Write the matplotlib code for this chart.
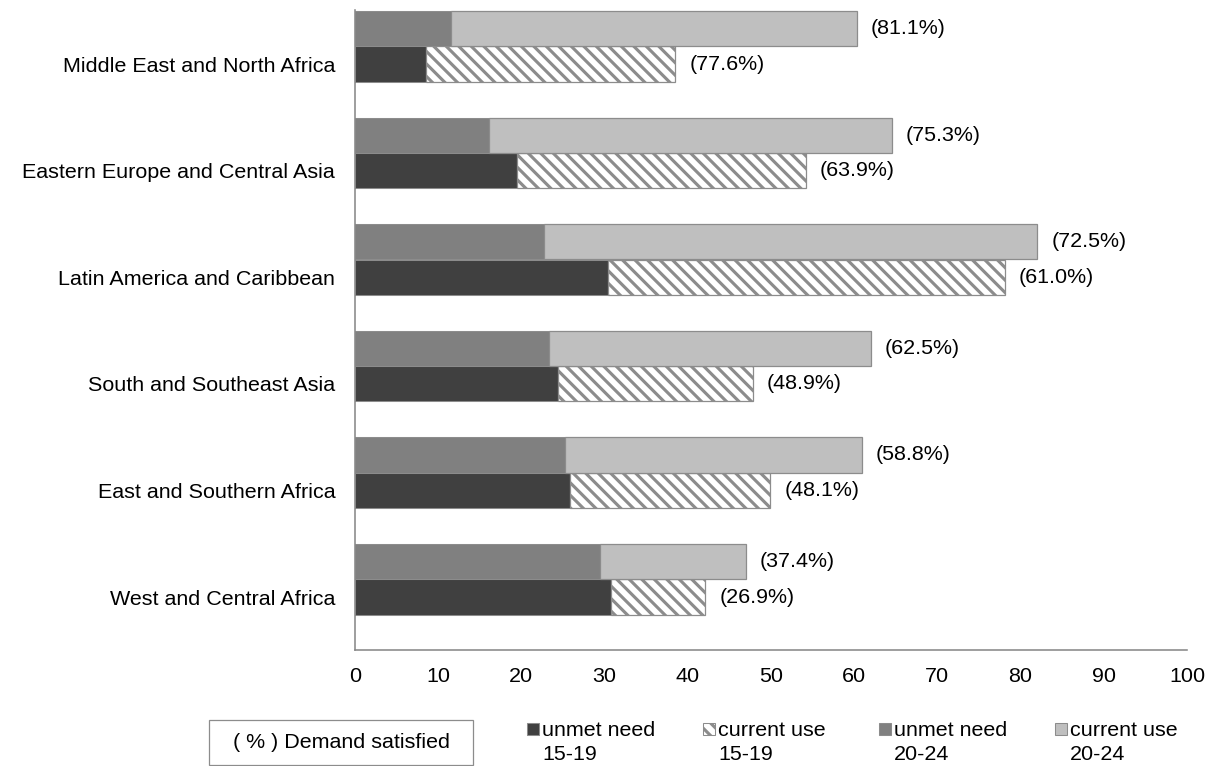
import matplotlib
matplotlib.use('Agg')
import matplotlib.pyplot as plt
from matplotlib.patches import Rectangle

plt.rcParams['font.family'] = ['Liberation Sans', 'DejaVu Sans']
plt.rcParams['hatch.linewidth'] = 3.0

# Datos (de abajo hacia arriba)
regions = ['West and Central Africa', 'East and Southern Africa', 'South and Southeast Asia',
           'Latin America and Caribbean', 'Eastern Europe and Central Asia',
           'Middle East and North Africa']
unmet_15_19 = [30.8, 25.8, 24.4, 30.4, 19.5, 8.5]
use_15_19 = [11.3, 24.1, 23.4, 47.7, 34.7, 30.0]
unmet_20_24 = [29.4, 25.2, 23.3, 22.7, 16.1, 11.5]
use_20_24 = [17.6, 35.7, 38.7, 59.3, 48.4, 48.8]
sat_15_19 = [26.9, 48.1, 48.9, 61.0, 63.9, 77.6]
sat_20_24 = [37.4, 58.8, 62.5, 72.5, 75.3, 81.1]
xticks = [0, 10, 20, 30, 40, 50, 60, 70, 80, 90, 100]

W, H, DPI = 1223, 766, 75
FS = 20.6
edge = '#8c8c8c'
c_unmet_1519 = '#404040'
c_unmet_2024 = '#808080'
c_use_2024 = '#bfbfbf'


def px(x, y):
    # pixel -> coordenadas de figura
    return x / W, (H - y) / H


fig = plt.figure(figsize=(W / DPI, H / DPI), dpi=DPI)
ax = fig.add_axes([355 / W, 116 / H, 832 / W, 640 / H])

y_bottom = list(range(len(regions)))
y_top = [y + 0.333 for y in y_bottom]
h = 0.33

ax.barh(y_bottom, unmet_15_19, height=h, color=c_unmet_1519, edgecolor=edge, linewidth=1)
ax.barh(y_bottom, use_15_19, left=unmet_15_19, height=h, color='white',
        edgecolor=edge, linewidth=1.2, hatch='\\\\')
ax.barh(y_top, unmet_20_24, height=h, color=c_unmet_2024, edgecolor=edge, linewidth=1)
ax.barh(y_top, use_20_24, left=unmet_20_24, height=h, color=c_use_2024,
        edgecolor=edge, linewidth=1.2)

# Etiquetas de demanda satisfecha
for i in range(len(regions)):
    tot1 = unmet_15_19[i] + use_15_19[i]
    tot2 = unmet_20_24[i] + use_20_24[i]
    ax.annotate('(%.1f%%)' % sat_15_19[i], (tot1, y_bottom[i]), xytext=(13.5, 0),
                textcoords='offset points', ha='left', va='center', fontsize=FS)
    ax.annotate('(%.1f%%)' % sat_20_24[i], (tot2, y_top[i]), xytext=(13.5, 0),
                textcoords='offset points', ha='left', va='center', fontsize=FS)

ax.set_xlim(0, 100)
ax.set_ylim(-0.497, 5.507)
ax.set_xticks(xticks)
ax.set_xticklabels([str(t) for t in xticks], fontsize=FS)
ax.set_yticks(y_bottom)
ax.set_yticklabels(regions, fontsize=FS)
ax.tick_params(axis='x', length=0, pad=16)
ax.tick_params(axis='y', length=0, pad=19)
for s in ['top', 'right']:
    ax.spines[s].set_visible(False)
for s in ['left', 'bottom']:
    ax.spines[s].set_color('#868686')
    ax.spines[s].set_linewidth(1.5)

# Caja "( % ) Demand satisfied"
x0, y0 = px(209, 765)
fig.add_artist(Rectangle((x0, y0), 264 / W, 45 / H, transform=fig.transFigure,
                         facecolor='none', edgecolor=edge, linewidth=1.2))
tx, ty = px(341, 743)
fig.text(tx, ty, '( % ) Demand satisfied', ha='center', va='center', fontsize=FS)

# Leyenda manual
legend_items = [
    ('unmet need', '15-19', dict(facecolor=c_unmet_1519, edgecolor=edge)),
    ('current use', '15-19', dict(facecolor='white', edgecolor=edge, hatch='\\\\')),
    ('unmet need', '20-24', dict(facecolor=c_unmet_2024, edgecolor=edge)),
    ('current use', '20-24', dict(facecolor=c_use_2024, edgecolor=edge)),
]
lx = [527, 703, 879, 1055]
for (l1, l2, st), x in zip(legend_items, lx):
    sx, sy = px(x, 735)
    fig.add_artist(Rectangle((sx, sy), 12 / W, 12 / H, transform=fig.transFigure,
                             linewidth=1, **st))
    t1x, t1y = px(x + 15, 730)
    fig.text(t1x, t1y, l1, ha='left', va='center', fontsize=FS)
    t2x, t2y = px(x + 15, 755)
    fig.text(t2x, t2y, l2, ha='left', va='center', fontsize=FS)

fig.savefig('out.png', dpi=DPI)
